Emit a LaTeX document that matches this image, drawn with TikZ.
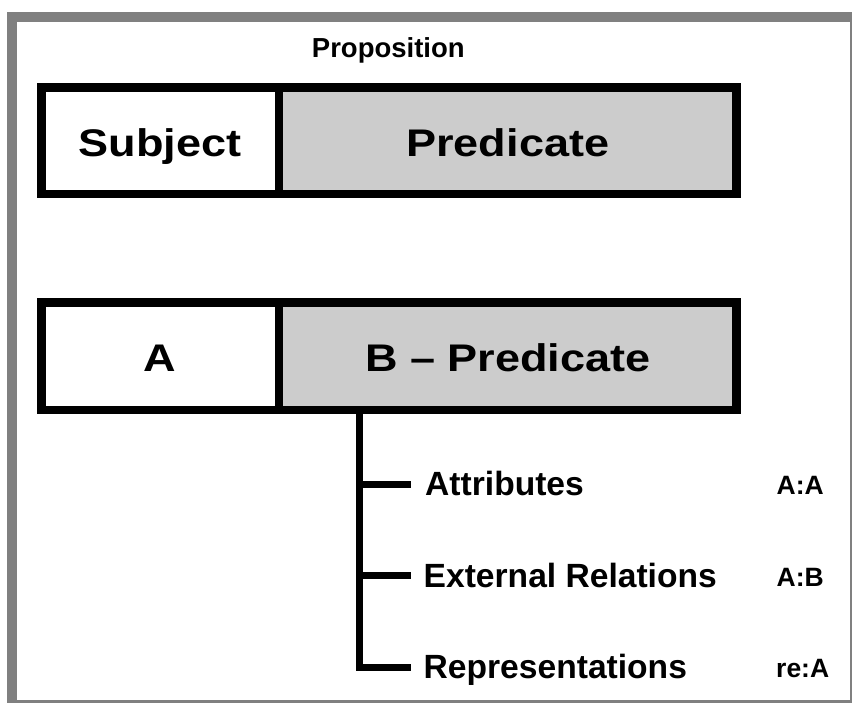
\documentclass[tikz,border=0pt]{standalone}
\usepackage{graphicx}
\usepackage{fontspec}
\setmainfont{Liberation Sans}
\newcommand{\bigtxt}[1]{\scalebox{1.17}[1]{\fontsize{38.5}{40}\selectfont\bfseries #1}}
\begin{document}
\begin{tikzpicture}[x=1pt,y=-1pt,
  cell/.style={draw=black, line width=8.5pt, inner sep=0pt, anchor=center, text height=31.2pt, text depth=0pt},
  whitecell/.style={cell, fill=white},
  graycell/.style={cell, fill=boxgray},
  lbl/.style={font=\fontsize{33.6}{36}\selectfont\bfseries, inner sep=0pt, anchor=base west},
  code/.style={font=\fontsize{26.5}{28}\selectfont\bfseries, inner sep=0pt, anchor=base west},
  title/.style={font=\fontsize{27.5}{30}\selectfont\bfseries, inner sep=0pt, anchor=base},
  treeline/.style={line width=7pt, line join=miter, line cap=butt}]
\definecolor{boxgray}{RGB}{204,204,204}
\definecolor{framegray}{RGB}{128,128,128}
\useasboundingbox (0,0) rectangle (852,702);
\clip (0,0) rectangle (852,702);
\fill[white] (0,0) rectangle (852,702);
% frame
\draw[framegray, line width=10pt] (12,17) rectangle (854.5,704.5);
% title
\node[title] (prop) at (388.3,57.5) {Proposition};
% top box
\node[whitecell, minimum width=237.5pt, minimum height=106.5pt] (subj) at (160.25,140.75) {\bigtxt{Subject}};
\node[graycell, minimum width=457.5pt, minimum height=106.5pt] (pred) at (507.75,140.75) {\bigtxt{Predicate}};
% bottom box
\node[whitecell, minimum width=237.5pt, minimum height=107.5pt] (a) at (160.25,356.25) {\bigtxt{A}};
\node[graycell, minimum width=457.5pt, minimum height=107.5pt] (b) at (507.75,356.25) {\bigtxt{B – Predicate}};
% tree
\coordinate (t0) at (359.3,410);
\coordinate (t1) at (359.3,484);
\coordinate (t2) at (359.3,575.5);
\coordinate (t3) at (359.3,667);
\coordinate (e1) at (411,484);
\coordinate (e2) at (411,575.5);
\coordinate (e3) at (411,667);
\draw[treeline] (t0) -- (t3) -- (e3);
\draw[treeline] (t1) -- (e1);
\draw[treeline] (t2) -- (e2);
% labels
\node[lbl] (attr) at (425,495.5) {Attributes};
\node[lbl] (ext) at (423.5,587) {External Relations};
\node[lbl] (rep) at (423.5,678.5) {Representations};
\node[code] (c1) at (776.5,494.5) {A:A};
\node[code] (c2) at (776.5,586) {A:B};
\node[code] (c3) at (776,677.5) {re:A};
\end{tikzpicture}
\end{document}
